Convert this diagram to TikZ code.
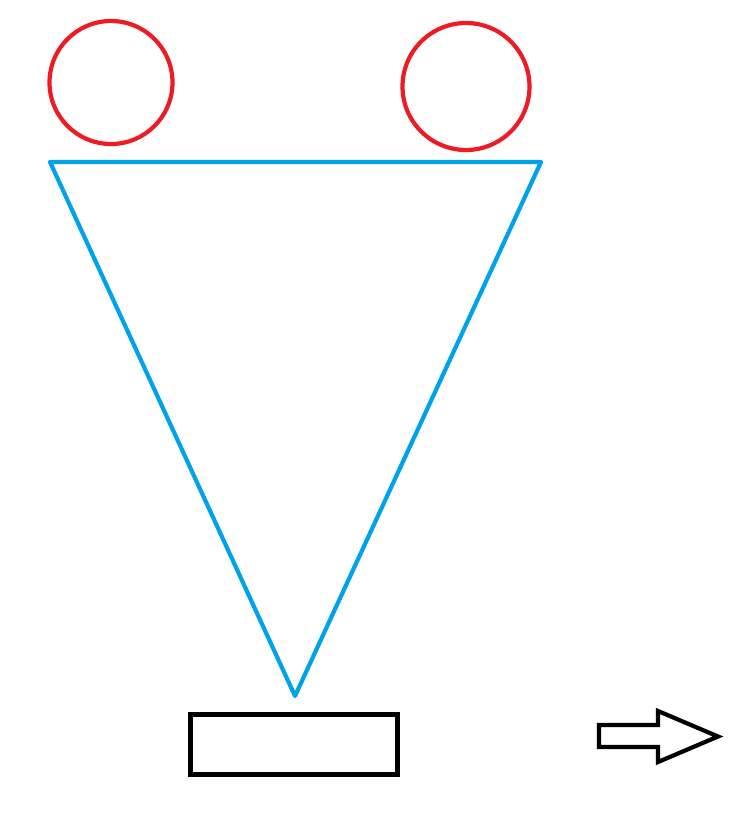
\documentclass[tikz,border=0pt]{standalone}
\definecolor{pred}{RGB}{237,28,36}
\definecolor{pblue}{RGB}{0,162,232}
\begin{document}
\begin{tikzpicture}[x=1pt,y=-1pt,
  circ/.style={draw=pred,line width=4.2pt},
  tri/.style={draw=pblue,line width=4.2pt,line join=round},
  box/.style={draw=black,line width=5pt,outer sep=0pt,inner sep=0pt},
  harrow/.style={draw=black,line width=4.2pt,line join=miter}]
\useasboundingbox (0,0) rectangle (743,816);
\draw[circ] (111,82.5) circle (61.5);
\draw[circ] (466,86.5) circle (63.5);
\coordinate (tl) at (50,162);
\coordinate (tr) at (541,162);
\coordinate (tb) at (295,696);
\draw[tri] (tl) -- (tr) -- (tb) -- cycle;
\node[box,minimum width=207pt,minimum height=60pt,anchor=north west] (rect) at (190.5,714.5) {};
\draw[harrow] (599,725) -- (658,725) -- (658,711) -- (718,736.5) -- (658,762) -- (658,747) -- (599,747) -- cycle;
\end{tikzpicture}
\end{document}
